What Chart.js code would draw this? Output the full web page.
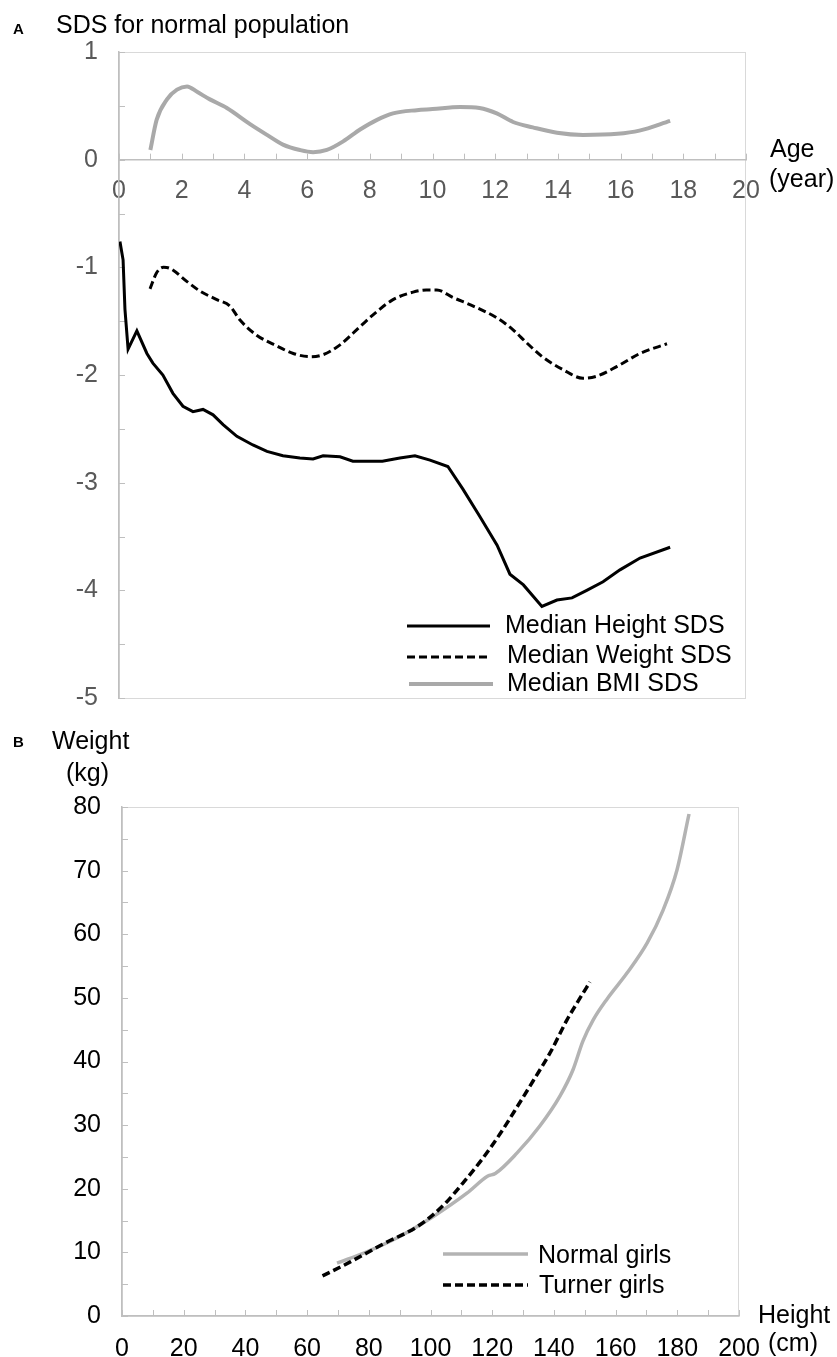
<!DOCTYPE html>
<html>
<head>
<meta charset="utf-8">
<script src="https://cdn.jsdelivr.net/npm/chart.js@4.4.1/dist/chart.umd.min.js"></script>
<style>
  body { margin:0; background:#fff; width:837px; height:1357px; position:relative; overflow:hidden;
         font-family:"Liberation Sans", Arial, sans-serif; }
  canvas { position:absolute; left:0; }
  .lbl { position:absolute; font-size:25px; line-height:25px; color:#000; white-space:nowrap; }
  .tag { position:absolute; font-size:15px; line-height:16px; font-weight:bold; color:#000; }
</style>
</head>
<body>
<canvas id="chartA" width="837" height="720" style="top:0"></canvas>
<canvas id="chartB" width="837" height="637" style="top:720px"></canvas>

<div class="tag" style="left:13px;top:21px">A</div>
<div class="lbl" style="left:56px;top:12px">SDS for normal population</div>
<div class="lbl" style="left:770px;top:136px">Age</div>
<div class="lbl" style="left:769px;top:166px">(year)</div>

<div class="tag" style="left:13px;top:734px">B</div>
<div class="lbl" style="left:52px;top:728px">Weight</div>
<div class="lbl" style="left:66px;top:760px">(kg)</div>
<div class="lbl" style="left:758px;top:1302px">Height</div>
<div class="lbl" style="left:768px;top:1330px">(cm)</div>

<script>
// panel A: median SDS by age (years)
const heightAge = [0.03, 0.13, 0.19, 0.29, 0.57, 0.89, 1.08, 1.40, 1.72, 2.04, 2.36, 2.68, 3.0, 3.32, 3.76, 4.27, 4.72, 5.23, 5.77, 6.19, 6.51, 7.05, 7.46, 8.4, 8.96, 9.44, 9.92, 10.49, 10.97, 11.5, 12.06, 12.47, 12.9, 13.49, 13.97, 14.45, 14.92, 15.44, 15.98, 16.62, 17.58];
const heightSds = [-0.76, -0.93, -1.39, -1.76, -1.59, -1.80, -1.89, -2.00, -2.17, -2.29, -2.34, -2.32, -2.37, -2.46, -2.57, -2.65, -2.71, -2.75, -2.77, -2.78, -2.75, -2.76, -2.80, -2.80, -2.77, -2.75, -2.79, -2.85, -3.06, -3.31, -3.58, -3.85, -3.95, -4.15, -4.09, -4.07, -4.00, -3.92, -3.81, -3.70, -3.60];

const weightAge = [0.99, 1.2, 1.42, 1.63, 2.16, 2.58, 3.12, 3.54, 3.86, 4.39, 5.03, 5.56, 6.1, 6.52, 7.05, 7.69, 8.23, 8.74, 9.38, 9.8, 10.14, 10.65, 11.3, 12.06, 12.57, 13.0, 13.5, 14.16, 14.8, 15.25, 15.89, 16.62, 17.48];
const weightSds = [-1.20, -1.05, -1.00, -1.01, -1.13, -1.22, -1.30, -1.36, -1.49, -1.63, -1.73, -1.80, -1.83, -1.81, -1.72, -1.55, -1.41, -1.30, -1.23, -1.21, -1.21, -1.28, -1.36, -1.47, -1.58, -1.70, -1.83, -1.95, -2.03, -2.01, -1.92, -1.80, -1.71];

const bmiAge = [1.0, 1.2, 1.53, 1.85, 2.17, 2.49, 2.9, 3.44, 4.18, 4.72, 5.23, 5.77, 6.19, 6.63, 7.15, 7.69, 8.23, 8.74, 9.5, 10.0, 10.88, 11.5, 12.05, 12.57, 13.2, 13.97, 14.8, 15.9, 16.6, 17.58];
const bmiSds = [0.09, 0.37, 0.56, 0.65, 0.68, 0.63, 0.56, 0.48, 0.33, 0.23, 0.14, 0.09, 0.07, 0.09, 0.17, 0.28, 0.37, 0.43, 0.46, 0.47, 0.49, 0.48, 0.43, 0.35, 0.30, 0.25, 0.23, 0.24, 0.27, 0.36];

// panel B: weight (kg) against height (cm)
const normalHeight = [69.7, 79.4, 90.0, 100.8, 111.8, 118.6, 121.0, 128.0, 135.5, 142.0, 146.2, 149.4, 152.7, 157.2, 163.7, 170.2, 175.4, 179.9, 183.8];
const normalWeight = [8.3, 10.1, 12.5, 15.6, 19.3, 22.0, 22.4, 25.6, 29.9, 34.6, 38.7, 43.2, 46.5, 49.8, 53.9, 58.6, 63.8, 70.1, 78.9];

const turnerHeight = [65.0, 74.0, 84.6, 95.6, 100.8, 105.0, 110.5, 116.5, 122.5, 128.5, 133.2, 138.7, 144.2, 148.0, 151.7];
const turnerWeight = [6.3, 8.5, 11.3, 14.0, 15.9, 17.8, 20.9, 24.5, 28.6, 33.2, 36.9, 41.3, 46.5, 49.6, 52.5];

const pts = (xs, ys) => xs.map((x, i) => ({ x: x, y: ys[i] }));

Chart.defaults.font.family = '"Liberation Sans", Arial, sans-serif';

// no auto padding from tick labels, so the plot area sits where we put it
function noPad(s) { s.paddingLeft = 0; s.paddingRight = 0; s.paddingTop = 0; s.paddingBottom = 0; }

// light frame + small inward tick marks (major and minor)
const axisDeco = {
  id: 'axisDeco',
  beforeDraw(chart, args, o) {
    const { ctx, chartArea: a } = chart;
    ctx.save();
    ctx.strokeStyle = o.frameColor;
    ctx.lineWidth = 1;
    ctx.strokeRect(a.left + 0.5, a.top + 0.5, a.right - a.left - 1, a.bottom - a.top);
    ctx.restore();
  },
  beforeDatasetsDraw(chart, args, o) {
    const { ctx, chartArea: a } = chart;
    const xs = chart.scales.x, ys = chart.scales.y;
    const base = o.xAt !== undefined ? ys.getPixelForValue(o.xAt) : a.bottom;
    ctx.save();
    ctx.strokeStyle = o.tickColor;
    ctx.lineWidth = 1;
    ctx.beginPath();
    for (let v = xs.min; v <= xs.max + 1e-9; v += o.xStep) {
      const px = Math.round(xs.getPixelForValue(v)) + 0.5;
      ctx.moveTo(px, base);
      ctx.lineTo(px, base - o.len);
    }
    for (let v = ys.min; v <= ys.max + 1e-9; v += o.yStep) {
      const py = Math.round(ys.getPixelForValue(v)) + 0.5;
      ctx.moveTo(a.left, py);
      ctx.lineTo(a.left + o.len, py);
    }
    ctx.stroke();
    ctx.restore();
  }
};

// legend drawn inside the plot at fixed spots
const sideLegend = {
  id: 'sideLegend',
  afterDatasetsDraw(chart, args, o) {
    const ctx = chart.ctx;
    ctx.save();
    o.items.forEach(it => {
      const ds = chart.data.datasets[it.index];
      ctx.strokeStyle = ds.borderColor;
      ctx.lineWidth = ds.borderWidth;
      ctx.setLineDash(ds.borderDash || []);
      ctx.beginPath();
      ctx.moveTo(it.x1, it.y);
      ctx.lineTo(it.x2, it.y);
      ctx.stroke();
      ctx.setLineDash([]);
      ctx.fillStyle = '#000';
      ctx.font = '25px "Liberation Sans", Arial, sans-serif';
      ctx.textBaseline = 'middle';
      ctx.textAlign = 'left';
      ctx.fillText(ds.label, it.tx, it.ty);
    });
    ctx.restore();
  }
};

new Chart(document.getElementById('chartA'), {
  type: 'line',
  data: {
    datasets: [
      { label: 'Median Height SDS', data: pts(heightAge, heightSds), borderColor: '#000', borderWidth: 3,
        pointRadius: 0, tension: 0, fill: false },
      { label: 'Median Weight SDS', data: pts(weightAge, weightSds), borderColor: '#000', borderWidth: 3,
        borderDash: [8, 4], pointRadius: 0, cubicInterpolationMode: 'monotone', fill: false },
      { label: 'Median BMI SDS', data: pts(bmiAge, bmiSds), borderColor: '#a9a9a9', borderWidth: 4,
        pointRadius: 0, cubicInterpolationMode: 'monotone', fill: false }
    ]
  },
  options: {
    responsive: false,
    animation: false,
    layout: { autoPadding: false, padding: { left: 0, top: 52, right: 91, bottom: 22 } },
    plugins: {
      legend: { display: false },
      tooltip: { enabled: false },
      axisDeco: { frameColor: '#d9d9d9', tickColor: '#bfbfbf', xAt: 0, xStep: 1, yStep: 0.5, len: 6 },
      sideLegend: { items: [
        { index: 0, x1: 407, x2: 490, y: 626, tx: 505, ty: 626 },
        { index: 1, x1: 407, x2: 490, y: 657, tx: 507, ty: 656 },
        { index: 2, x1: 409, x2: 493, y: 684, tx: 507, ty: 684 }
      ] }
    },
    scales: {
      x: {
        type: 'linear', min: 0, max: 20, position: { y: 0 },
        ticks: { stepSize: 2, color: '#595959', font: { size: 25 }, padding: 16, autoSkip: false, maxRotation: 0 },
        grid: { display: false, drawTicks: false },
        border: { color: '#bfbfbf', width: 1.5 },
        afterFit: noPad
      },
      y: {
        type: 'linear', min: -5, max: 1, position: 'left',
        ticks: { stepSize: 1, color: '#595959', font: { size: 25 }, padding: 21 },
        grid: { display: false, drawTicks: false },
        border: { color: '#bfbfbf', width: 1.5 },
        afterFit: s => { noPad(s); s.width = 119; }
      }
    }
  },
  plugins: [axisDeco, sideLegend]
});

new Chart(document.getElementById('chartB'), {
  type: 'line',
  data: {
    datasets: [
      { label: 'Normal girls', data: pts(normalHeight, normalWeight), borderColor: '#b3b3b3', borderWidth: 3.5,
        pointRadius: 0, cubicInterpolationMode: 'monotone', fill: false, order: 1 },
      { label: 'Turner girls', data: pts(turnerHeight, turnerWeight), borderColor: '#000', borderWidth: 3.5,
        borderDash: [8, 4], pointRadius: 0, cubicInterpolationMode: 'monotone', fill: false, order: 0 }
    ]
  },
  options: {
    responsive: false,
    animation: false,
    layout: { autoPadding: false, padding: { left: 0, top: 87, right: 98, bottom: 0 } },
    plugins: {
      legend: { display: false },
      tooltip: { enabled: false },
      axisDeco: { frameColor: '#d9d9d9', tickColor: '#bfbfbf', xStep: 10, yStep: 5, len: 6 },
      sideLegend: { items: [
        { index: 0, x1: 443, x2: 528, y: 534, tx: 538, ty: 536 },
        { index: 1, x1: 443, x2: 528, y: 565, tx: 539, ty: 566 }
      ] }
    },
    scales: {
      x: {
        type: 'linear', min: 0, max: 200, position: 'bottom',
        ticks: { stepSize: 20, color: '#000', font: { size: 25 }, padding: 18, autoSkip: false, maxRotation: 0 },
        grid: { display: false, drawTicks: false },
        border: { color: '#bfbfbf', width: 1.5 },
        afterFit: s => { noPad(s); s.height = 41; }
      },
      y: {
        type: 'linear', min: 0, max: 80, position: 'left',
        ticks: { stepSize: 10, color: '#000', font: { size: 25 }, padding: 21 },
        grid: { display: false, drawTicks: false },
        border: { color: '#bfbfbf', width: 1.5 },
        afterFit: s => { noPad(s); s.width = 122; }
      }
    }
  },
  plugins: [axisDeco, sideLegend]
});
</script>
</body>
</html>
